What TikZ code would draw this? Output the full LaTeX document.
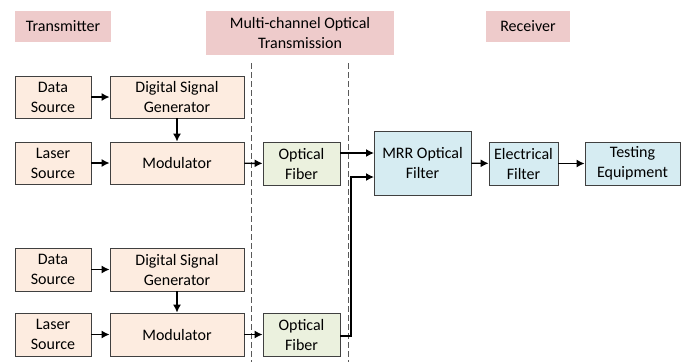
\documentclass[tikz,border=0pt]{standalone}
\usepackage{fontspec}
\setmainfont{Carlito}
\usetikzlibrary{arrows.meta}
\definecolor{txfill}{HTML}{FDECE0}
\definecolor{fibfill}{HTML}{EBF1DE}
\definecolor{rxfill}{HTML}{D6ECF2}
\definecolor{lblfill}{HTML}{EECBCB}
\tikzset{block/.style = {shape=rectangle,draw=black!75,line width=0.8pt,align=center,inner sep=1pt}}
\tikzset{txblock/.style = {block,fill=txfill}}
\tikzset{fibblock/.style = {block,fill=fibfill,minimum width=77,minimum height=43}}
\tikzset{rxblock/.style = {block,fill=rxfill,minimum height=43}}
\tikzset{stage/.style = {shape=rectangle,fill=lblfill,align=center,inner sep=0pt}}
\tikzset{edge/.style = {->,> = {Latex[length=8pt,width=8pt]},line width=1.4pt}}
\tikzset{sep/.style = {draw=black!65,line width=0.7pt,dash pattern=on 6pt off 3pt}}

\begin{document}
\begin{tikzpicture}[x=1pt,y=-1pt,font=\fontsize{16}{20}\selectfont]
          \useasboundingbox (0,0) rectangle (687,362);
          % stage labels
          \node[stage,minimum width=96,minimum height=31] (Tx) at (63, 26.5) {Transmitter};
          \node[stage,minimum width=188,minimum height=44] (MC) at (300, 33) {Multi-channel Optical\\Transmission};
          \node[stage,minimum width=84,minimum height=31] (Rx) at (528, 26.5) {Receiver};

          % separators
          \coordinate (S1a) at (251, 63);
          \coordinate (S1b) at (251, 362);
          \coordinate (S2a) at (348, 63);
          \coordinate (S2b) at (348, 362);
          \draw[sep] (S1a) -- (S1b);
          \draw[sep] (S2a) -- (S2b);

          % channel 1
          \node[txblock,minimum width=76,minimum height=42] (DS1) at (53, 97) {Data\\Source};
          \node[txblock,minimum width=134,minimum height=42] (DSG1) at (177, 97) {Digital Signal\\Generator};
          \node[txblock,minimum width=76,minimum height=42] (LS1) at (53, 163) {Laser\\Source};
          \node[txblock,minimum width=134,minimum height=42] (Mod1) at (177, 163) {Modulator};
          \node[fibblock] (OF1) at (301.5, 163.5) {Optical\\Fiber};

          % channel 2
          \node[txblock,minimum width=76,minimum height=43] (DS2) at (53, 269.5) {Data\\Source};
          \node[txblock,minimum width=134,minimum height=43] (DSG2) at (177, 269.5) {Digital Signal\\Generator};
          \node[txblock,minimum width=76,minimum height=43] (LS2) at (53, 334.5) {Laser\\Source};
          \node[txblock,minimum width=134,minimum height=43] (Mod2) at (177, 334.5) {Modulator};
          \node[fibblock] (OF2) at (301.5, 334.5) {Optical\\Fiber};

          % receiver
          \node[rxblock,minimum width=97,minimum height=64] (MRR) at (422.5, 163) {MRR Optical\\Filter};
          \node[rxblock,minimum width=69] (EF) at (523.5, 163.5) {Electrical\\Filter};
          \node[rxblock,minimum width=95] (TE) at (632.5, 163.5) {Testing\\Equipment};

          \coordinate (MRRin1) at (374, 153);
          \coordinate (MRRin2) at (374, 177);
          \coordinate (Bend) at (351, 336);

          \draw[edge] (DS1) -- (DSG1);
          \draw[edge] (DSG1) -- (Mod1);
          \draw[edge] (LS1) -- (Mod1);
          \draw[edge] (Mod1) -- (OF1);
          \draw[edge] (DS2) -- (DSG2);
          \draw[edge] (DSG2) -- (Mod2);
          \draw[edge] (LS2) -- (Mod2);
          \draw[edge] (Mod2) -- (OF2);
          \draw[edge] (OF1.east |- MRRin1) -- (MRRin1);
          \draw[edge] (OF2.east |- Bend) -- (Bend) |- (MRRin2);
          \draw[edge] (MRR) -- (EF);
          \draw[edge] (EF) -- (TE);
        \end{tikzpicture}
\end{document}
